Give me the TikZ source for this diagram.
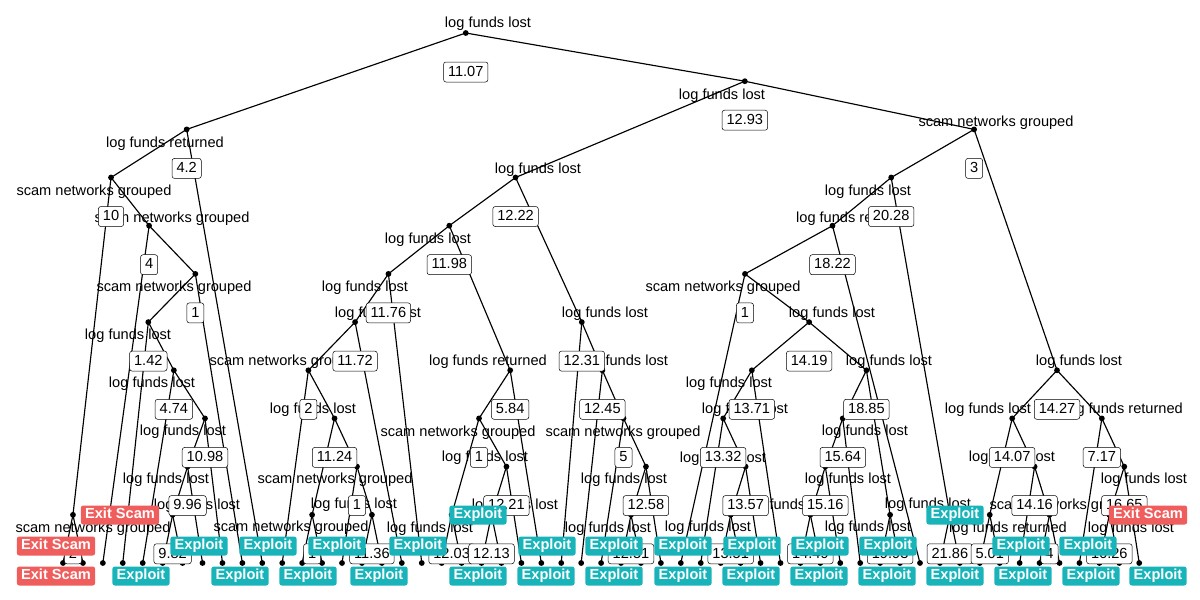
\documentclass[tikz,border=0pt]{standalone}
\usepackage{fontspec}
\setmainfont{Liberation Sans}
\definecolor{tealc}{HTML}{19B4BA}
\definecolor{redc}{HTML}{EF5D5D}
\tikzset{
  edge/.style={line width=1.15pt, black},
  nodedot/.style={black},
  varlbl/.style={inner sep=0pt, yshift=-1.5pt, text height=10.5pt, text depth=3pt, font=\fontsize{14.6}{16}\selectfont},
  splitlbl/.style={draw=black, line width=0.5pt, fill=white, rounded corners=2.5pt, inner xsep=4.5pt, inner ysep=0pt, minimum height=20pt, text height=10.5pt, text depth=2pt, font=\fontsize{14.6}{16}\selectfont},
  exploitlbl/.style={fill=tealc, text=white, rounded corners=2.5pt, yshift=-1pt, inner xsep=4.3pt, inner ysep=0pt, minimum height=19pt, text height=10.5pt, text depth=3pt, font=\fontsize{14.6}{16}\selectfont\bfseries},
  exitlbl/.style={exploitlbl, fill=redc},
}
\begin{document}
\begin{tikzpicture}[x=1pt,y=-1pt]
\fill[white] (0,0) rectangle (1200,600);
\useasboundingbox (0,0) rectangle (1200,600);
% leaves
\foreach \i in {0,...,54} { \coordinate (l\i) at ({63+19.93*\i},563); }
% internal nodes
\coordinate (N1) at (465.75,33);
\coordinate (N3) at (744.83,81.2);
\coordinate (N2) at (186.67,129.4);
\coordinate (N4) at (974.1,129.4);
\coordinate (N5) at (111.03,177.5);
\coordinate (N13) at (515.55,177.5);
\coordinate (N15) at (891.19,177.5);
\coordinate (N6) at (149.1,225.7);
\coordinate (N14) at (449.3,225.7);
\coordinate (N16) at (832.49,225.7);
\coordinate (N7) at (195.35,273.9);
\coordinate (N19) at (388.42,273.9);
\coordinate (N17) at (744.98,273.9);
\coordinate (N8) at (148.32,322.1);
\coordinate (N20) at (355.1,322.1);
\coordinate (N21) at (581.8,322.1);
\coordinate (N18) at (809.13,322.1);
\coordinate (N9) at (173.86,370.3);
\coordinate (N22) at (308.39,370.3);
\coordinate (N23) at (510.18,370.3);
\coordinate (N24) at (602.36,370.3);
\coordinate (N25) at (751.83,370.3);
\coordinate (N37) at (866.43,370.3);
\coordinate (Nr) at (1057.02,370.3);
\coordinate (N10) at (205,418.4);
\coordinate (N27) at (334.54,418.4);
\coordinate (N31) at (479.04,418.4);
\coordinate (N26) at (623.53,418.4);
\coordinate (N38) at (723.18,418.4);
\coordinate (N41) at (842.76,418.4);
\coordinate (N45) at (1012.17,418.4);
\coordinate (N46) at (1101.86,418.4);
\coordinate (N11) at (187.56,466.6);
\coordinate (N29) at (356.97,466.6);
\coordinate (N32) at (506.44,466.6);
\coordinate (N35) at (645.95,466.6);
\coordinate (N39) at (745.6,466.6);
\coordinate (N43) at (825.32,466.6);
\coordinate (N48) at (1034.59,466.6);
\coordinate (N50) at (1124.28,466.6);
\coordinate (Na) at (72.97,514.8);
\coordinate (N12) at (172.62,514.8);
\coordinate (N28) at (312.12,514.8);
\coordinate (N30) at (371.92,514.8);
\coordinate (N33) at (451.64,514.8);
\coordinate (N34) at (491.5,514.8);
\coordinate (N36) at (631,514.8);
\coordinate (N40) at (730.66,514.8);
\coordinate (N44) at (810.38,514.8);
\coordinate (N42) at (890.1,514.8);
\coordinate (Nx) at (949.89,514.8);
\coordinate (N47) at (989.75,514.8);
\coordinate (N49) at (1049.54,514.8);
\coordinate (N51) at (1109.33,514.8);
% edges
\foreach \a/\b in {N1/N2,N1/N3,N2/N5,N2/l10,N5/Na,N5/N6,Na/l0,Na/l1,N6/l2,N6/N7,N7/N8,N7/l9,N8/l3,N8/N9,N9/l4,N9/N10,N10/N11,N10/l8,N11/N12,N11/l7,N12/l5,N12/l6,
  N3/N13,N3/N4,N13/N14,N13/N21,N14/N19,N14/N23,N19/N20,N19/l18,N20/N22,N20/l17,N22/l11,N22/N27,N27/N28,N27/N29,N28/l12,N28/l13,N29/l14,N29/N30,N30/l15,N30/l16,
  N23/N31,N23/l24,N31/N33,N31/N32,N33/l19,N33/l20,N32/N34,N32/l23,N34/l21,N34/l22,N21/l25,N21/N24,N24/l26,N24/N26,N26/l27,N26/N35,N35/N36,N35/l30,N36/l28,N36/l29,
  N4/N15,N4/Nr,N15/N16,N15/Nx,N16/N17,N16/l43,N17/l31,N17/N18,N18/N25,N18/N37,N25/N38,N25/l36,N38/l32,N38/N39,N39/N40,N39/l35,N40/l33,N40/l34,
  N37/N41,N37/N42,N41/N43,N41/l40,N43/N44,N43/l39,N44/l37,N44/l38,N42/l41,N42/l42,Nx/l44,Nx/l45,
  Nr/N45,Nr/N46,N45/N47,N45/N48,N47/l46,N47/l47,N48/l48,N48/N49,N49/l49,N49/l50,N46/l51,N46/N50,N50/N51,N50/l54,N51/l52,N51/l53}
  { \draw[edge] (\a) -- (\b); }
% dots
\foreach \n in {N1,N2,N3,N4,N5,N6,N7,N8,N9,N10,N11,N12,N13,N14,N15,N16,N17,N18,N19,N20,N21,N22,N23,N24,N25,N26,N27,N28,N29,N30,N31,N32,N33,N34,N35,N36,N37,N38,N39,N40,N41,N42,N43,N44,N45,N46,N47,N48,N49,N50,N51,Na,Nr,Nx}
  { \fill[nodedot] (\n) circle (2.9pt); }
\foreach \i in {0,...,54} { \fill[nodedot] (l\i) circle (2.9pt); }
% variable labels
\foreach \nm/\x/\y/\t in {
  v1/488/22/log funds lost, v3/722/94/log funds lost, v2/165/142/log funds returned, v4/996/121/scam networks grouped,
  v5/94/190/scam networks grouped, v13/538/168/log funds lost, v15/868/190/log funds lost,
  v6/172/217/scam networks grouped, v14/428/238/log funds lost, v16/855/217/log funds returned,
  v7/174/286/scam networks grouped, v19/365/286/log funds lost, v17/723/286/scam networks grouped,
  v8/128/334/log funds lost, v20/378/312/log funds lost, v21/605/312/log funds lost, v18/832/312/log funds lost,
  v9/152/382/log funds lost, v22/287/360/scam networks grouped, v23/488/360/log funds returned, v24/625/360/log funds lost,
  v25/729/382/log funds lost, v37/889/360/log funds lost, vr/1079/360/log funds lost,
  v10/183/430/log funds lost, v27/313/408/log funds lost, v31/458/431/scam networks grouped, v26/623/431/scam networks grouped,
  v38/745/408/log funds lost, v41/865/430/log funds lost, v45/988/408/log funds lost, v46/1124/408/log funds returned,
  v11/166/478/log funds lost, v29/335/478/scam networks grouped, v32/485/456/log funds lost, v35/624/478/log funds lost,
  v39/723/457/log funds lost, v43/848/478/log funds lost, v48/1012/456/log funds lost, v50/1144/478/log funds lost,
  va/93/527/scam networks grouped, v12/197/504/log funds lost, v28/291/526/scam networks grouped, v30/354/503/log funds lost,
  v33/430/527/log funds lost, v34/515/504/log funds lost, v36/608/527/log funds lost, v40/708/526/log funds lost,
  v44/789/504/log funds lost, v42/868/526/log funds lost, vx/928/503/log funds lost, v47/1008/527/log funds returned,
  v49/1067/504/scam networks grouped, v51/1131/527/log funds lost}
  { \node[varlbl] (\nm) at (\x,\y) {\t}; }
% split value boxes
\foreach \nm/\x/\y/\t in {
  s1/465.75/72/11.07, s3/744.83/120.2/12.93, s2/186.67/168.4/4.2, s4/974.1/168.4/3,
  s5/111.03/216.5/10, s13/515.55/216.5/12.22, s15/891.19/216.5/20.28,
  s6/149.1/264.7/4, s14/449.3/264.7/11.98, s16/832.49/264.7/18.22,
  s7/195.35/312.9/1, s19/388.42/312.9/11.76, s17/744.98/312.9/1,
  s8/148.32/361.1/1.42, s20/355.1/361.1/11.72, s21/581.8/361.1/12.31, s18/809.13/361.1/14.19,
  s9/173.86/409.3/4.74, s22/308.39/409.3/2, s23/510.18/409.3/5.84, s24/602.36/409.3/12.45,
  s25/751.83/409.3/13.71, s37/866.43/409.3/18.85, sr/1057.02/409.3/14.27,
  s10/205/457.4/10.98, s27/334.54/457.4/11.24, s31/479.04/457.4/1, s26/623.53/457.4/5,
  s38/723.18/457.4/13.32, s41/842.76/457.4/15.64, s45/1012.17/457.4/14.07, s46/1101.86/457.4/7.17,
  s11/187.56/505.6/9.96, s29/356.97/505.6/1, s32/506.44/505.6/12.21, s35/645.95/505.6/12.58,
  s39/745.6/505.6/13.57, s43/825.32/505.6/15.16, s48/1034.59/505.6/14.16, s50/1124.28/505.6/16.65,
  sa/72.97/553.8/2, s12/172.62/553.8/9.82, s28/312.12/553.8/1, s30/371.92/553.8/11.36,
  s33/451.64/553.8/12.03, s34/491.5/553.8/12.13, s36/631/553.8/12.51, s40/730.66/553.8/13.51,
  s44/810.38/553.8/14.49, s42/890.1/553.8/19.93, sx/949.89/553.8/21.86, s47/989.75/553.8/5.01,
  s49/1049.54/553.8/4, s51/1109.33/553.8/16.26}
  { \node[splitlbl] (\nm) at (\x,\y) {\t}; }
% leaf class labels
\foreach \nm/\x in {p1/141,p2/240,p3/308,p4/379,p5/478,p6/546,p7/614,p8/683,p9/751,p10/819,p11/887,p12/955,p13/1023,p14/1091,p15/1158}
  { \node[exploitlbl] (\nm) at (\x,575) {Exploit}; }
\foreach \nm/\x in {q1/199,q2/268,q3/337,q4/418,q5/547,q6/614,q7/683,q8/752,q9/820,q10/888,q11/1021,q12/1088}
  { \node[exploitlbl] (\nm) at (\x,545) {Exploit}; }
\node[exploitlbl] (r1) at (478,514) {Exploit};
\node[exploitlbl] (r2) at (955,514) {Exploit};
\node[exitlbl] (e1) at (56,575) {Exit Scam};
\node[exitlbl] (e2) at (56,545) {Exit Scam};
\node[exitlbl] (e3) at (120,514) {Exit Scam};
\node[exitlbl] (e4) at (1148,514) {Exit Scam};
\end{tikzpicture}
\end{document}
